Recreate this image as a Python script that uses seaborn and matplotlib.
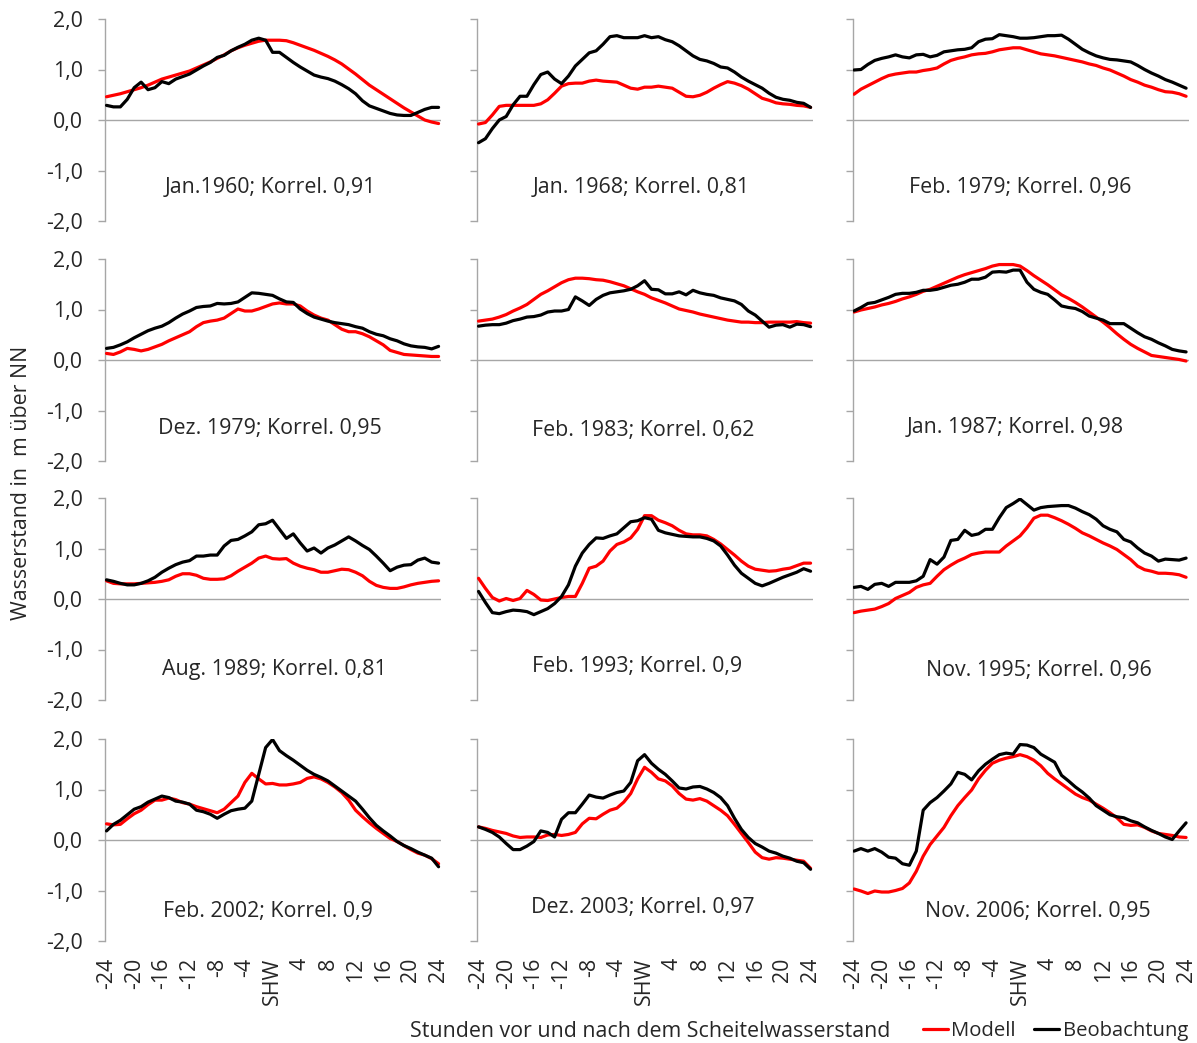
import matplotlib
matplotlib.use("Agg")
import matplotlib.pyplot as plt
import numpy as np
import pandas as pd
import seaborn as sns
from matplotlib.lines import Line2D

# ---------------------------------------------------------------- data
hours = list(range(-24, 25))
tick_hours = list(range(-24, 25, 4))
tick_labels = ["SHW" if h == 0 else str(h) for h in tick_hours]
y_ticks = [-2.0, -1.0, 0.0, 1.0, 2.0]
y_labels = ["2,0" if v == 2 else f"{v:.1f}".replace(".", ",") for v in y_ticks]

titles = [
    "Jan.1960; Korrel. 0,91", "Jan. 1968; Korrel. 0,81", "Feb. 1979; Korrel. 0,96",
    "Dez. 1979; Korrel. 0,95", "Feb. 1983; Korrel. 0,62", "Jan. 1987; Korrel. 0,98",
    "Aug. 1989; Korrel. 0,81", "Feb. 1993; Korrel. 0,9", "Nov. 1995; Korrel. 0,96",
    "Feb. 2002; Korrel. 0,9", "Dez. 2003; Korrel. 0,97", "Nov. 2006; Korrel. 0,95",
]

modell_1960_01 = [0.46, 0.49, 0.52, 0.56, 0.60, 0.64, 0.69, 0.75, 0.81, 0.85, 0.89, 0.93, 0.97,
                  1.03, 1.09, 1.15, 1.22, 1.29, 1.37, 1.43, 1.48, 1.52, 1.56, 1.58, 1.58,
                  1.58, 1.57, 1.53, 1.48, 1.43, 1.38, 1.32, 1.26, 1.19, 1.11, 1.01, 0.91,
                  0.80, 0.69, 0.60, 0.51, 0.42, 0.33, 0.24, 0.16, 0.08, 0.00, -0.04, -0.07]
beob_1960_01 = [0.29, 0.26, 0.26, 0.41, 0.64, 0.75, 0.60, 0.64, 0.76, 0.72, 0.81, 0.86, 0.91,
                0.99, 1.07, 1.14, 1.24, 1.28, 1.37, 1.44, 1.50, 1.58, 1.62, 1.58, 1.34,
                1.34, 1.24, 1.14, 1.05, 0.97, 0.89, 0.85, 0.82, 0.77, 0.70, 0.62, 0.52,
                0.38, 0.28, 0.23, 0.18, 0.13, 0.10, 0.09, 0.09, 0.15, 0.21, 0.25, 0.25]

modell_1968_01 = [-0.08, -0.05, 0.10, 0.27, 0.29, 0.29, 0.29, 0.29, 0.29, 0.32, 0.40, 0.53, 0.67,
                  0.72, 0.73, 0.73, 0.77, 0.79, 0.77, 0.76, 0.75, 0.69, 0.63, 0.61, 0.65,
                  0.65, 0.67, 0.65, 0.63, 0.55, 0.47, 0.46, 0.49, 0.55, 0.63, 0.70, 0.76,
                  0.73, 0.68, 0.61, 0.52, 0.43, 0.39, 0.34, 0.32, 0.31, 0.29, 0.28, 0.25]
beob_1968_01 = [-0.45, -0.37, -0.17, 0.00, 0.07, 0.30, 0.47, 0.47, 0.70, 0.90, 0.95, 0.81, 0.72,
                0.87, 1.07, 1.20, 1.33, 1.37, 1.50, 1.65, 1.67, 1.63, 1.63, 1.63, 1.67,
                1.63, 1.65, 1.59, 1.55, 1.47, 1.37, 1.27, 1.20, 1.17, 1.12, 1.05, 1.03,
                0.95, 0.85, 0.77, 0.70, 0.63, 0.53, 0.45, 0.41, 0.39, 0.35, 0.33, 0.25]

modell_1979_02 = [0.51, 0.61, 0.68, 0.75, 0.82, 0.88, 0.91, 0.93, 0.95, 0.95, 0.98, 1.00, 1.03,
                  1.11, 1.18, 1.22, 1.25, 1.29, 1.31, 1.32, 1.35, 1.39, 1.41, 1.43, 1.43,
                  1.39, 1.35, 1.31, 1.29, 1.27, 1.24, 1.21, 1.18, 1.15, 1.11, 1.08, 1.03,
                  0.99, 0.93, 0.87, 0.80, 0.75, 0.69, 0.65, 0.60, 0.56, 0.55, 0.52, 0.47]
beob_1979_02 = [0.99, 1.00, 1.10, 1.18, 1.22, 1.25, 1.29, 1.25, 1.23, 1.29, 1.30, 1.25, 1.28,
                1.35, 1.37, 1.39, 1.40, 1.43, 1.55, 1.60, 1.61, 1.69, 1.67, 1.65, 1.62,
                1.62, 1.63, 1.65, 1.67, 1.67, 1.68, 1.60, 1.50, 1.40, 1.33, 1.27, 1.23,
                1.20, 1.19, 1.17, 1.15, 1.08, 1.00, 0.93, 0.87, 0.80, 0.75, 0.69, 0.63]

modell_1979_12 = [0.13, 0.11, 0.16, 0.23, 0.21, 0.18, 0.21, 0.26, 0.31, 0.38, 0.44, 0.50, 0.56,
                  0.66, 0.74, 0.77, 0.79, 0.83, 0.92, 1.01, 0.97, 0.97, 1.01, 1.06, 1.11,
                  1.13, 1.11, 1.11, 1.07, 0.97, 0.89, 0.83, 0.79, 0.70, 0.61, 0.56, 0.56,
                  0.52, 0.46, 0.38, 0.30, 0.19, 0.15, 0.11, 0.10, 0.09, 0.08, 0.07, 0.07]
beob_1979_12 = [0.23, 0.25, 0.30, 0.36, 0.44, 0.51, 0.58, 0.63, 0.67, 0.74, 0.83, 0.91, 0.97,
                1.04, 1.06, 1.07, 1.12, 1.11, 1.12, 1.15, 1.24, 1.33, 1.32, 1.30, 1.28,
                1.21, 1.15, 1.14, 1.01, 0.92, 0.85, 0.81, 0.77, 0.74, 0.72, 0.70, 0.66,
                0.63, 0.56, 0.51, 0.48, 0.42, 0.38, 0.32, 0.28, 0.26, 0.25, 0.22, 0.27]

modell_1983_02 = [0.77, 0.79, 0.81, 0.85, 0.90, 0.97, 1.03, 1.10, 1.20, 1.30, 1.37, 1.45, 1.53,
                  1.59, 1.62, 1.62, 1.61, 1.59, 1.58, 1.55, 1.51, 1.47, 1.41, 1.35, 1.30,
                  1.23, 1.18, 1.13, 1.07, 1.01, 0.98, 0.95, 0.91, 0.88, 0.85, 0.82, 0.79,
                  0.77, 0.75, 0.75, 0.74, 0.74, 0.75, 0.75, 0.75, 0.75, 0.76, 0.74, 0.73]
beob_1983_02 = [0.67, 0.69, 0.70, 0.70, 0.73, 0.78, 0.81, 0.85, 0.86, 0.89, 0.95, 0.97, 0.97,
                1.00, 1.25, 1.17, 1.08, 1.20, 1.28, 1.33, 1.35, 1.37, 1.40, 1.47, 1.57,
                1.40, 1.39, 1.31, 1.31, 1.35, 1.29, 1.38, 1.33, 1.30, 1.28, 1.23, 1.20,
                1.17, 1.10, 0.97, 0.89, 0.77, 0.65, 0.69, 0.70, 0.65, 0.71, 0.70, 0.66]

modell_1987_01 = [0.95, 0.99, 1.02, 1.05, 1.09, 1.12, 1.16, 1.21, 1.25, 1.30, 1.36, 1.40, 1.46,
                  1.52, 1.58, 1.64, 1.69, 1.73, 1.77, 1.81, 1.86, 1.89, 1.89, 1.89, 1.86,
                  1.77, 1.67, 1.58, 1.49, 1.39, 1.29, 1.22, 1.14, 1.05, 0.95, 0.85, 0.75,
                  0.64, 0.52, 0.41, 0.31, 0.23, 0.16, 0.09, 0.07, 0.05, 0.03, 0.01, -0.02]
beob_1987_01 = [0.97, 1.04, 1.12, 1.14, 1.19, 1.24, 1.30, 1.32, 1.32, 1.34, 1.38, 1.38, 1.40,
                1.44, 1.48, 1.50, 1.54, 1.60, 1.60, 1.64, 1.74, 1.75, 1.74, 1.78, 1.78,
                1.54, 1.40, 1.34, 1.30, 1.19, 1.07, 1.04, 1.02, 0.96, 0.87, 0.83, 0.79,
                0.72, 0.72, 0.72, 0.63, 0.54, 0.46, 0.41, 0.34, 0.28, 0.21, 0.18, 0.16]

modell_1989_08 = [0.36, 0.31, 0.30, 0.30, 0.30, 0.31, 0.32, 0.33, 0.35, 0.38, 0.45, 0.50, 0.50,
                  0.47, 0.41, 0.39, 0.39, 0.40, 0.46, 0.55, 0.63, 0.71, 0.81, 0.85, 0.80,
                  0.79, 0.80, 0.71, 0.65, 0.61, 0.58, 0.53, 0.53, 0.56, 0.59, 0.58, 0.53,
                  0.46, 0.35, 0.27, 0.23, 0.21, 0.21, 0.24, 0.28, 0.31, 0.33, 0.35, 0.36]
beob_1989_08 = [0.38, 0.35, 0.31, 0.28, 0.28, 0.31, 0.36, 0.43, 0.53, 0.61, 0.68, 0.73, 0.76,
                0.85, 0.85, 0.87, 0.87, 1.05, 1.16, 1.18, 1.25, 1.33, 1.47, 1.49, 1.56,
                1.38, 1.20, 1.29, 1.11, 0.95, 1.01, 0.91, 1.01, 1.07, 1.15, 1.23, 1.15,
                1.06, 0.98, 0.85, 0.71, 0.56, 0.63, 0.67, 0.68, 0.77, 0.81, 0.73, 0.71]

modell_1993_02 = [0.41, 0.21, 0.03, -0.04, 0.01, -0.03, 0.01, 0.17, 0.09, -0.02, -0.03, 0.00, 0.03,
                  0.05, 0.05, 0.31, 0.61, 0.65, 0.75, 0.95, 1.08, 1.13, 1.21, 1.38, 1.65,
                  1.65, 1.56, 1.51, 1.45, 1.36, 1.29, 1.27, 1.27, 1.25, 1.18, 1.09, 0.98,
                  0.87, 0.75, 0.65, 0.59, 0.57, 0.55, 0.56, 0.59, 0.61, 0.66, 0.71, 0.71]
beob_1993_02 = [0.15, -0.07, -0.27, -0.29, -0.25, -0.22, -0.23, -0.25, -0.31, -0.25, -0.19, -0.09, 0.05,
                0.28, 0.65, 0.91, 1.08, 1.21, 1.20, 1.25, 1.29, 1.41, 1.53, 1.55, 1.61,
                1.58, 1.36, 1.31, 1.28, 1.25, 1.24, 1.23, 1.23, 1.20, 1.15, 1.05, 0.87,
                0.67, 0.51, 0.41, 0.31, 0.26, 0.31, 0.37, 0.43, 0.48, 0.53, 0.60, 0.55]

modell_1995_11 = [-0.27, -0.24, -0.22, -0.20, -0.15, -0.09, 0.01, 0.07, 0.13, 0.23, 0.28, 0.31, 0.45,
                  0.58, 0.67, 0.75, 0.81, 0.88, 0.91, 0.93, 0.93, 0.93, 1.05, 1.15, 1.25,
                  1.41, 1.60, 1.66, 1.66, 1.61, 1.55, 1.48, 1.40, 1.31, 1.25, 1.18, 1.11,
                  1.05, 0.98, 0.88, 0.78, 0.65, 0.58, 0.55, 0.51, 0.51, 0.50, 0.48, 0.43]
beob_1995_11 = [0.23, 0.25, 0.19, 0.29, 0.31, 0.25, 0.33, 0.33, 0.33, 0.36, 0.45, 0.78, 0.69,
                0.83, 1.16, 1.18, 1.36, 1.26, 1.29, 1.38, 1.38, 1.61, 1.81, 1.89, 1.98,
                1.87, 1.76, 1.81, 1.83, 1.84, 1.85, 1.85, 1.80, 1.73, 1.67, 1.58, 1.45,
                1.38, 1.33, 1.18, 1.13, 1.01, 0.91, 0.85, 0.75, 0.79, 0.78, 0.77, 0.81]

modell_2002_02 = [0.32, 0.30, 0.31, 0.42, 0.52, 0.59, 0.70, 0.79, 0.79, 0.83, 0.80, 0.74, 0.71,
                  0.66, 0.62, 0.58, 0.54, 0.61, 0.74, 0.87, 1.14, 1.32, 1.21, 1.11, 1.12,
                  1.09, 1.09, 1.11, 1.14, 1.22, 1.25, 1.21, 1.14, 1.05, 0.94, 0.79, 0.59,
                  0.46, 0.34, 0.23, 0.13, 0.03, -0.03, -0.11, -0.19, -0.26, -0.30, -0.37, -0.47]
beob_2002_02 = [0.18, 0.31, 0.39, 0.50, 0.61, 0.66, 0.75, 0.81, 0.87, 0.84, 0.77, 0.75, 0.71,
                0.59, 0.56, 0.51, 0.43, 0.51, 0.58, 0.61, 0.63, 0.77, 1.30, 1.83, 1.99,
                1.77, 1.67, 1.58, 1.48, 1.38, 1.30, 1.24, 1.17, 1.07, 0.97, 0.87, 0.77,
                0.61, 0.44, 0.29, 0.18, 0.08, -0.03, -0.11, -0.17, -0.24, -0.30, -0.36, -0.53]

modell_2003_12 = [0.26, 0.23, 0.19, 0.16, 0.13, 0.08, 0.05, 0.06, 0.06, 0.05, 0.10, 0.11, 0.09,
                  0.11, 0.15, 0.32, 0.43, 0.42, 0.51, 0.59, 0.63, 0.75, 0.92, 1.21, 1.44,
                  1.34, 1.21, 1.17, 1.07, 0.92, 0.81, 0.79, 0.82, 0.77, 0.68, 0.59, 0.48,
                  0.31, 0.13, -0.05, -0.24, -0.35, -0.38, -0.35, -0.36, -0.38, -0.40, -0.42, -0.56]
beob_2003_12 = [0.26, 0.21, 0.15, 0.06, -0.07, -0.19, -0.19, -0.12, -0.03, 0.18, 0.15, 0.06, 0.41,
                0.54, 0.54, 0.71, 0.89, 0.85, 0.83, 0.89, 0.94, 0.97, 1.14, 1.57, 1.69,
                1.52, 1.40, 1.30, 1.17, 1.03, 1.01, 1.05, 1.06, 1.01, 0.94, 0.84, 0.68,
                0.43, 0.21, 0.05, -0.07, -0.14, -0.22, -0.26, -0.32, -0.36, -0.42, -0.45, -0.58]

modell_2006_11 = [-0.97, -1.01, -1.06, -1.01, -1.03, -1.03, -1.00, -0.96, -0.85, -0.62, -0.32, -0.09, 0.08,
                  0.25, 0.48, 0.68, 0.84, 0.99, 1.21, 1.38, 1.52, 1.58, 1.62, 1.65, 1.69,
                  1.65, 1.58, 1.47, 1.32, 1.21, 1.11, 1.01, 0.91, 0.84, 0.79, 0.71, 0.63,
                  0.54, 0.44, 0.31, 0.29, 0.30, 0.25, 0.18, 0.13, 0.11, 0.09, 0.06, 0.05]
beob_2006_11 = [-0.22, -0.17, -0.22, -0.17, -0.24, -0.34, -0.36, -0.47, -0.50, -0.22, 0.59, 0.74, 0.84,
                0.97, 1.11, 1.34, 1.30, 1.19, 1.37, 1.50, 1.60, 1.69, 1.72, 1.70, 1.89,
                1.88, 1.83, 1.70, 1.62, 1.54, 1.28, 1.17, 1.05, 0.95, 0.83, 0.68, 0.59,
                0.50, 0.46, 0.44, 0.38, 0.34, 0.26, 0.19, 0.13, 0.06, 0.01, 0.18, 0.34]

modell_series = [modell_1960_01, modell_1968_01, modell_1979_02, modell_1979_12,
                 modell_1983_02, modell_1987_01, modell_1989_08, modell_1993_02,
                 modell_1995_11, modell_2002_02, modell_2003_12, modell_2006_11]
beob_series = [beob_1960_01, beob_1968_01, beob_1979_02, beob_1979_12,
               beob_1983_02, beob_1987_01, beob_1989_08, beob_1993_02,
               beob_1995_11, beob_2002_02, beob_2003_12, beob_2006_11]

# ---------------------------------------------------------------- style
sns.set_style("white")
plt.rcParams["font.family"] = ["Open Sans", "DejaVu Sans"]
FS = 15.4
FS_LEG = 14.6
TXT = "#262626"
GRID = "#a6a6a6"
palette = {"Modell": "#ff0000", "Beobachtung": "#000000"}

# long table: one row per panel, series and hour
frames = []
for i, (m, b) in enumerate(zip(modell_series, beob_series)):
    frames.append(pd.DataFrame({"Panel": i, "Reihe": "Modell", "Stunde": hours, "Wert": m}))
    frames.append(pd.DataFrame({"Panel": i, "Reihe": "Beobachtung", "Stunde": hours, "Wert": b}))
df = pd.concat(frames, ignore_index=True)

W, H = 1197, 1043
fig = plt.figure(figsize=(W / 100, H / 100), dpi=100)

col_left = [105, 477, 852.5]
row_top = [19, 259, 498, 739]
ax_w, ax_h = 336, 202

# label anchor per panel (hour, level)
label_pos = [(-0.37, -1.45), (-0.50, -1.45), (-0.05, -1.45),
             (-0.37, -1.46), (-0.17, -1.50), (-0.66, -1.45),
             (0.26, -1.51), (-1.02, -1.45), (2.74, -1.53),
             (-0.73, -1.52), (-0.22, -1.45), (2.53, -1.52)]

for i in range(12):
    r, c = divmod(i, 3)
    ax = fig.add_axes([col_left[c] / W, 1 - (row_top[r] + ax_h) / H, ax_w / W, ax_h / H])
    ax.axhline(0, color=GRID, lw=1.0, zorder=1)
    sns.lineplot(data=df[df["Panel"] == i], x="Stunde", y="Wert", hue="Reihe",
                 hue_order=["Modell", "Beobachtung"], palette=palette,
                 linewidth=2.3, errorbar=None, legend=False, ax=ax, zorder=3)
    ax.set_xlim(-24.22, 24.35)
    ax.set_ylim(-2.0, 2.0)
    ax.set_xlabel("")
    ax.set_ylabel("")
    for s in ["top", "right", "bottom"]:
        ax.spines[s].set_visible(False)
    ax.spines["left"].set_color(GRID)
    ax.spines["left"].set_linewidth(1.0)
    ax.set_yticks(y_ticks)
    ax.tick_params(axis="y", which="both", left=True, length=5, width=1.0,
                   color=GRID, pad=11, labelsize=FS, labelcolor=TXT)
    if c == 0:
        ax.set_yticklabels(y_labels)
    else:
        ax.set_yticklabels([])
    ax.set_xticks(tick_hours)
    if r == 3:
        ax.set_xticklabels(tick_labels, rotation=90)
        ax.tick_params(axis="x", length=0, pad=12, labelsize=FS, labelcolor=TXT)
    else:
        ax.set_xticklabels([])
        ax.tick_params(axis="x", length=0)
    ax.set_facecolor("none")
    lx, ly = label_pos[i]
    ax.text(lx, ly, titles[i], ha="center", va="baseline", fontsize=FS, color=TXT)

fig.text(22 / W, 1 - 483 / H, "Wasserstand in  m über NN", rotation=90,
         ha="center", va="center", fontsize=FS, color=TXT)
fig.text(650 / W, 1 - 1037 / H, "Stunden vor und nach dem Scheitelwasserstand",
         ha="center", va="baseline", fontsize=FS, color=TXT)

handles = [Line2D([], [], color=palette["Modell"], lw=2.3),
           Line2D([], [], color=palette["Beobachtung"], lw=2.3)]
fig.legend(handles, ["Modell", "Beobachtung"], loc="center left",
           bbox_to_anchor=(923 / W, 1 - 1031 / H), ncol=2, frameon=False,
           fontsize=FS_LEG, handlelength=1.25, handletextpad=0.15, columnspacing=0.9,
           borderpad=0, borderaxespad=0, labelcolor=TXT)

fig.savefig("out.png", dpi=100, facecolor="white")
